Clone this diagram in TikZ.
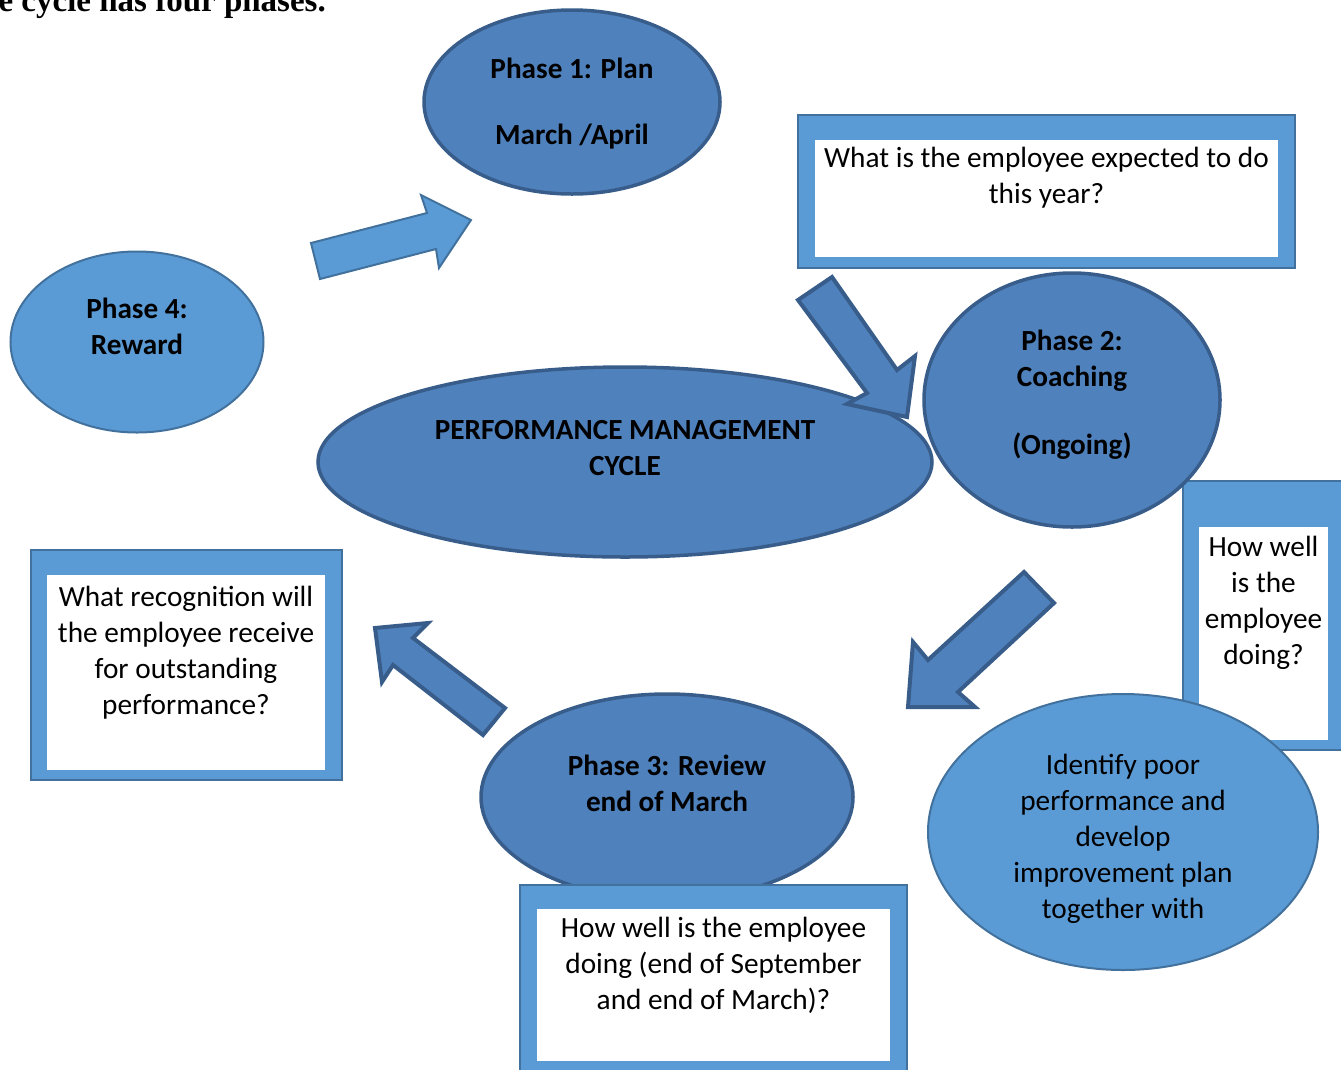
\documentclass[tikz,border=0pt]{standalone}
\usepackage{fontspec}
\setmainfont{Carlito}
\newfontfamily\titlefont{Liberation Serif}
\usetikzlibrary{shapes.geometric}
\definecolor{lightfill}{HTML}{5B9BD5}
\definecolor{lightline}{HTML}{41719C}
\definecolor{darkfill}{HTML}{4F81BD}
\definecolor{darkline}{HTML}{385D8A}
\tikzset{
  lightell/.style={ellipse, draw=lightline, fill=lightfill, line width=2pt, inner sep=0pt},
  darkell/.style={ellipse, draw=darkline, fill=darkfill, line width=3.5pt, inner sep=0pt},
  lightarrow/.style={draw=lightline, fill=lightfill, line width=2pt, line join=miter},
  darkarrow/.style={draw=darkline, fill=darkfill, line width=4pt, line join=miter},
  outerbox/.style={draw=lightline, fill=lightfill, line width=1.5pt},
  innerbox/.style={fill=white},
  boldtxt/.style={anchor=north, inner sep=0pt, align=center, yshift=-2pt, font=\fontsize{29.2}{36}\selectfont\bfseries},
  plaintxt/.style={anchor=north, inner sep=0pt, align=center, yshift=-2pt, font=\fontsize{29.3}{36}\selectfont},
}
\begin{document}
\begin{tikzpicture}[x=1pt,y=-1pt]
\useasboundingbox (0,0) rectangle (1341,1069);
\clip (0,0) rectangle (1341,1069);
% title (cut off at the top edge, as in the reference)
\node[anchor=base east, inner sep=0pt, font=\titlefont\fontsize{33}{38}\selectfont\bfseries] (title) at (326,11) {The cycle has four phases.};
% Phase 1
\node[darkell, minimum width=296pt, minimum height=184pt] (p1) at (572,102) {};
\node[boldtxt] (p1t) at (572,51) {\strut Phase 1: Plan\\[30pt] March /April};
% Phase 4
\node[lightell, minimum width=253pt, minimum height=181pt] (p4) at (137,342) {};
\node[boldtxt] (p4t) at (137,291) {\strut Phase 4:\\ Reward};
% top box
\node[outerbox, minimum width=497pt, minimum height=153pt] (tb) at (1046.5,191.5) {};
\node[innerbox, minimum width=463pt, minimum height=117pt] (tbi) at (1046.5,198.5) {};
\node[plaintxt] (tbt) at (1046.5,140) {\strut What is the employee expected to do\\ this year?};
% arrow 1 (light)
\coordinate (a1s) at (311,243);
\draw[lightarrow] (a1s) -- (427,213) -- (421,195) -- (471,220) -- (439,268) -- (436,249) -- (320,279) -- cycle;
% right box
\node[outerbox, minimum width=170pt, minimum height=269pt] (rb) at (1268,615.5) {};
\node[innerbox, minimum width=129pt, minimum height=213pt] (rbi) at (1263.5,633.5) {};
\node[plaintxt] (rbt) at (1263.5,529) {\strut How well\\ is the\\ employee\\ doing?};
% PMC
\node[darkell, minimum width=614pt, minimum height=190pt] (pmc) at (625,462) {};
\node[boldtxt] (pmct) at (625,412) {\strut PERFORMANCE MANAGEMENT\\ CYCLE};
% Phase 2
\node[darkell, minimum width=296pt, minimum height=254pt] (p2) at (1072,400) {};
\node[boldtxt] (p2t) at (1072,323) {\strut Phase 2:\\ Coaching\\[32pt] (Ongoing)};
% arrow 2
\draw[darkarrow] (832,277) -- (897,370) -- (915,356) -- (907,417) -- (847,404) -- (867,393) -- (798,300) -- cycle;
% Identify ellipse
\node[lightell, minimum width=390pt, minimum height=276pt] (idf) at (1123,832) {};
\node[plaintxt] (idft) at (1123,747) {\strut Identify poor\\ performance and\\ develop\\ improvement plan\\ together with};
% arrow 3
\draw[darkarrow] (1024,572) -- (1054,603) -- (958,692) -- (975,707) -- (908,707) -- (913,642) -- (928,660) -- cycle;
% Phase 3
\node[darkell, minimum width=372pt, minimum height=206pt] (p3) at (667,797) {};
\node[boldtxt] (p3t) at (667,748) {\strut Phase 3: Review\\ end of March};
% bottom box
\node[outerbox, minimum width=387pt, minimum height=200pt] (bb) at (713.5,985) {};
\node[innerbox, minimum width=353pt, minimum height=152pt] (bbi) at (713.5,985) {};
\node[plaintxt] (bbt) at (713.5,910) {\strut How well is the employee\\ doing (end of September\\ and end of March)?};
% left box
\node[outerbox, minimum width=311pt, minimum height=230pt] (lb) at (186.5,665) {};
\node[innerbox, minimum width=278pt, minimum height=195pt] (lbi) at (186,672.5) {};
\node[plaintxt] (lbt) at (186,579) {\strut What recognition will\\ the employee receive\\ for outstanding\\ performance?};
% arrow 4
\draw[darkarrow] (505,708) -- (483,735) -- (393,665) -- (382,682) -- (375,628) -- (428,623) -- (413,638) -- cycle;
\end{tikzpicture}
\end{document}
